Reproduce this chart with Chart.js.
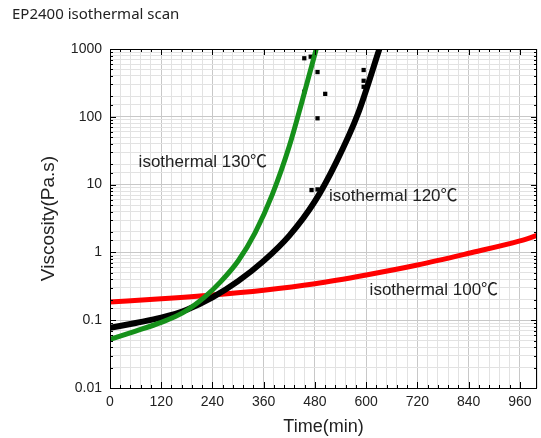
<!DOCTYPE html>
<html>
<head>
<meta charset="utf-8">
<script src="https://cdn.jsdelivr.net/npm/chart.js@4.4.1/dist/chart.umd.min.js"></script>
<style>
  html, body { margin: 0; padding: 0; background: #fff; }
</style>
</head>
<body>
<canvas id="viscChart" width="541" height="438"></canvas>
<script>
// isothermal 130 C
const time130 = [0, 60, 120, 170, 220, 260, 300, 340, 380, 420, 450, 483];
const visc130 = [0.052, 0.069, 0.093, 0.128, 0.215, 0.374, 0.746, 1.96, 7.1, 37, 171, 1000];

// isothermal 120 C
const time120 = [0, 60, 120, 180, 240, 300, 360, 420, 480, 530, 580, 632];
const visc120 = [0.077, 0.091, 0.109, 0.143, 0.217, 0.377, 0.75, 1.77, 5.7, 21.5, 108, 1050];

// isothermal 100 C
const time100 = [0, 120, 240, 360, 480, 600, 720, 840, 960, 1000];
const visc100 = [0.186, 0.207, 0.235, 0.277, 0.345, 0.465, 0.652, 0.97, 1.48, 1.78];

// stray points near gelation
const noiseTime = [455, 470, 486, 455, 504, 486, 472, 486, 594, 594, 594];
const noiseVisc = [730, 770, 457, 234, 218, 95, 8.3, 8.5, 490, 340, 277];

const xTickLabels = [0, 120, 240, 360, 480, 600, 720, 840, 960];
const yTickLabels = ['0.01', '0.1', '1', '10', '100', '1000'];

const curveLabels = [
    { text: 'isothermal 130\u2103', x: 67, y: 21.5 },
    { text: 'isothermal 120\u2103', x: 513, y: 6.8 },
    { text: 'isothermal 100\u2103', x: 608, y: 0.28 },
];

function pts(xs, ys) {
    return xs.map((x, i) => ({ x: x, y: ys[i] }));
}

function isDecade(v) {
    const e = Math.log10(v);
    return Math.abs(e - Math.round(e)) < 1e-6;
}

const tickFont = { family: '"Liberation Sans", Arial, sans-serif', size: 14 };

// inward ticks on all four sides plus the frame
const frameTicks = {
    id: 'frameTicks',
    afterDraw(chart) {
        const ctx = chart.ctx;
        const a = chart.chartArea;
        const xs = chart.scales.x;
        const ys = chart.scales.y;
        ctx.save();
        ctx.strokeStyle = '#000';
        ctx.lineWidth = 1;
        ctx.beginPath();
        xs.ticks.forEach(t => {
            if (t.value > 999) return;
            const px = Math.round(xs.getPixelForValue(t.value)) + 0.5;
            const len = t.value % 120 === 0 ? 6 : 3;
            ctx.moveTo(px, a.bottom); ctx.lineTo(px, a.bottom - len);
            ctx.moveTo(px, a.top); ctx.lineTo(px, a.top + len);
        });
        ys.ticks.forEach(t => {
            const py = Math.round(ys.getPixelForValue(t.value)) + 0.5;
            const len = isDecade(t.value) ? 6 : 3;
            ctx.moveTo(a.left, py); ctx.lineTo(a.left + len, py);
            ctx.moveTo(a.right, py); ctx.lineTo(a.right - len, py);
        });
        ctx.stroke();
        ctx.strokeRect(Math.round(a.left) + 0.5, Math.round(a.top) + 0.5,
            Math.round(a.right - a.left) - 1, Math.round(a.bottom - a.top));
        ctx.restore();
    }
};

const curveText = {
    id: 'curveText',
    afterDatasetsDraw(chart) {
        const ctx = chart.ctx;
        const xs = chart.scales.x;
        const ys = chart.scales.y;
        ctx.save();
        ctx.font = '17px "Liberation Sans", Arial, "Noto Sans CJK SC", sans-serif';
        ctx.fillStyle = '#222';
        ctx.textBaseline = 'middle';
        ctx.textAlign = 'left';
        curveLabels.forEach(l => {
            ctx.fillText(l.text, xs.getPixelForValue(l.x), ys.getPixelForValue(l.y));
        });
        ctx.restore();
    }
};

const lineStyle = {
    borderWidth: 5,
    pointRadius: 0,
    fill: false,
    cubicInterpolationMode: 'monotone',
};

const data = {
    datasets: [
    {
        label: 'isothermal 130',
        data: pts(time130, visc130),
        borderColor: '#15901a',
        ...lineStyle,
    },
    {
        label: 'isothermal 120',
        data: pts(time120, visc120),
        borderColor: '#000000',
        ...lineStyle,
        borderWidth: 6,
    },
    {
        label: 'stray',
        data: pts(noiseTime, noiseVisc),
        showLine: false,
        pointStyle: 'rect',
        pointRadius: 3,
        borderWidth: 0,
        backgroundColor: '#000000',
        borderColor: '#000000',
    },
    {
        label: 'isothermal 100',
        data: pts(time100, visc100),
        borderColor: '#ff0000',
        ...lineStyle,
    },
    ]
};

const minorGrid = '#e2e2e2';
const majorGrid = '#c8c8c8';

const config = {
    type: 'line',
    data: data,
    options: {
        responsive: false,
        animation: false,
        layout: {
            padding: { left: 12, right: 1, top: 0, bottom: 0 },
        },
        plugins: {
            legend: { display: false },
            tooltip: { enabled: false },
            title: {
                display: true,
                text: 'EP2400 isothermal scan',
                align: 'start',
                color: '#222',
                font: { family: '"Noto Sans", sans-serif', size: 15, weight: 'normal' },
                padding: { top: 6, bottom: 25 },
            },
        },
        scales: {
            x: {
                type: 'linear',
                min: 0,
                max: 1000,
                afterFit: s => { s.height = 50; },
                ticks: {
                    stepSize: 24,
                    autoSkip: false,
                    maxRotation: 0,
                    minRotation: 0,
                    padding: 0,
                    color: '#222',
                    font: tickFont,
                    callback: v => xTickLabels.includes(v) ? String(v) : '',
                },
                grid: {
                    drawTicks: true,
                    tickLength: 6,
                    tickColor: 'rgba(0,0,0,0)',
                    color: c => (c.tick && c.tick.value % 120 === 0) ? majorGrid : minorGrid,
                    borderDash: c => (c.tick && c.tick.value % 120 === 0) ? [] : [1, 2],
                },
                border: { display: false },
                title: {
                    display: true,
                    text: 'Time(min)',
                    color: '#222',
                    font: { family: '"Liberation Sans", Arial, sans-serif', size: 18 },
                    padding: { top: 0, bottom: 0 },
                },
            },
            y: {
                type: 'logarithmic',
                min: 0.01,
                max: 1000,
                afterFit: s => { s.width = 98; },
                ticks: {
                    autoSkip: false,
                    padding: 8,
                    color: '#222',
                    font: tickFont,
                    callback: v => {
                        if (!isDecade(v)) return '';
                        const i = Math.round(Math.log10(v)) + 2;
                        return yTickLabels[i];
                    },
                },
                grid: {
                    drawTicks: false,
                    color: c => (c.tick && isDecade(c.tick.value)) ? majorGrid : minorGrid,
                    borderDash: c => (c.tick && isDecade(c.tick.value)) ? [] : [1, 2],
                },
                border: { display: false },
                title: {
                    display: true,
                    text: 'Viscosity(Pa.s)',
                    color: '#222',
                    font: { family: '"Liberation Sans", Arial, sans-serif', size: 19 },
                    padding: { top: 25, bottom: 0 },
                },
            },
        },
    },
    plugins: [frameTicks, curveText],
};

const viscChart = new Chart(document.getElementById('viscChart'), config);
</script>
</body>
</html>
